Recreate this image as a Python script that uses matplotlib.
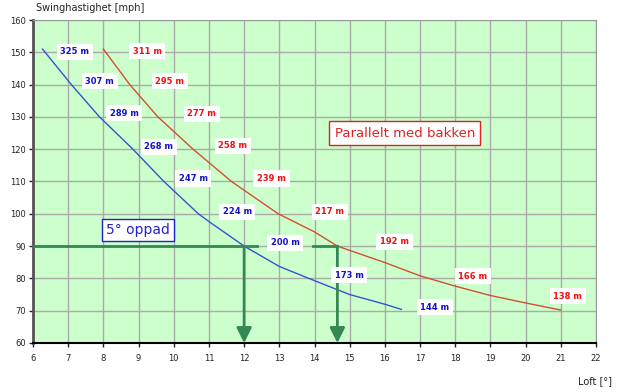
import matplotlib
matplotlib.use("Agg")
import matplotlib.pyplot as plt

# swing speed vs loft for same carry
up_loft = [6.27, 7.09, 7.89, 8.84, 9.72, 10.7, 11.0, 12.0, 13.0, 14.0, 15.0, 16.0, 16.47]
up_speed = [151, 140, 130, 120, 110, 100, 97.6, 90, 83.7, 79.3, 75.0, 72.0, 70.4]

flat_loft = [8.0, 8.75, 9.55, 10.55, 11.64, 12.97, 14.0, 14.65, 16.0, 17.0, 18.0, 19.0, 20.0, 21.0]
flat_speed = [151, 140, 130, 120, 110, 100, 94.4, 90, 84.9, 80.8, 77.6, 74.7, 72.4, 70.2]

up_lab_x = [7.19, 7.9, 8.59, 9.58, 10.55, 11.8, 13.16, 14.98, 17.42]
up_lab_y = [150.1, 141.1, 131.2, 120.7, 111.0, 100.6, 91.0, 81.0, 71.1]
up_lab = ["325 m", "307 m", "289 m", "268 m", "247 m", "224 m", "200 m", "173 m", "144 m"]

flat_lab_x = [9.24, 9.89, 10.8, 11.68, 12.78, 14.44, 16.28, 18.5, 21.2]
flat_lab_y = [150.4, 141.1, 130.9, 121.0, 111.0, 100.6, 91.3, 80.7, 74.5]
flat_lab = ["311 m", "295 m", "277 m", "258 m", "239 m", "217 m", "192 m", "166 m", "138 m"]

ref_speed = 90
ref_loft = [12.0, 14.65]

fig = plt.figure(figsize=(6.19, 3.92), dpi=100)
ax = fig.add_axes([33 / 619, 1 - 343 / 392, (596 - 33) / 619, (343 - 20) / 392])
ax.set_facecolor("#ccffcc")

ax.set_xlim(6, 22)
ax.set_ylim(60, 160)
ax.set_xticks(range(6, 23))
ax.set_yticks(range(60, 161, 10))
ax.grid(True, color="#aaaaaa", linewidth=1)
ax.set_axisbelow(True)

ax.tick_params(labelsize=6, length=3, width=1, pad=2, colors="#222222")
ax.tick_params(axis="x", pad=5)
for s in ("top", "right"):
    ax.spines[s].set_color("#999999")
ax.spines["left"].set_color("#555555")
ax.spines["left"].set_linewidth(2)
ax.spines["bottom"].set_color("black")
ax.spines["bottom"].set_linewidth(1.5)

ax.plot(up_loft, up_speed, color="#3355cc", linewidth=1)
ax.plot(flat_loft, flat_speed, color="#d05030", linewidth=1)

box = dict(boxstyle="square,pad=0.45", facecolor="white", edgecolor="none")
for x, y, t in zip(up_lab_x, up_lab_y, up_lab):
    ax.text(x, y, t, color="#1111cc", fontsize=6, fontweight="bold",
            ha="center", va="center", bbox=box, zorder=6)
for x, y, t in zip(flat_lab_x, flat_lab_y, flat_lab):
    ax.text(x, y, t, color="#ee1111", fontsize=6, fontweight="bold",
            ha="center", va="center", bbox=box, zorder=6)

# reading lines at 90 mph
green = "#338855"
ax.plot([6, ref_loft[0] + 0.38], [ref_speed, ref_speed], color=green, linewidth=2, zorder=4)
ax.plot([ref_loft[1] - 0.7, ref_loft[1]], [ref_speed, ref_speed], color=green, linewidth=2, zorder=4)
for lx in ref_loft:
    ax.annotate("", xy=(lx, 60), xytext=(lx, ref_speed), zorder=4,
                arrowprops=dict(arrowstyle="-|>,head_length=0.9,head_width=0.45",
                                color=green, linewidth=2, shrinkA=0, shrinkB=0))

ax.text(8.98, 95, "5° oppad", color="#2222cc", fontsize=10, ha="center", va="center", zorder=6,
        bbox=dict(boxstyle="square,pad=0.3", facecolor="white", edgecolor="#2222cc", linewidth=1))
ax.text(16.57, 125, "Parallelt med bakken", color="#dd2222", fontsize=9.5, ha="center", va="center", zorder=6,
        bbox=dict(boxstyle="square,pad=0.4", facecolor="white", edgecolor="#dd2222", linewidth=1))

fig.text(36 / 619, 1 - 8 / 392, "Swinghastighet [mph]", fontsize=7, va="center", ha="left", color="#222222")
fig.text(612 / 619, 1 - 381 / 392, "Loft [°]", fontsize=7, va="center", ha="right", color="#222222")

fig.savefig("out.png", dpi=100)
